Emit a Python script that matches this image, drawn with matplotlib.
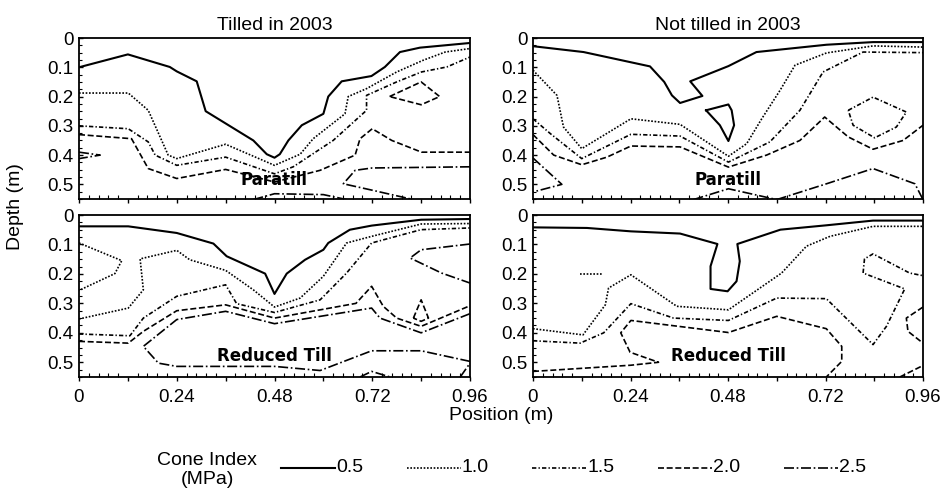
import matplotlib
matplotlib.use("Agg")
import matplotlib.pyplot as plt
from matplotlib.lines import Line2D
from matplotlib.ticker import FixedLocator, MultipleLocator

plt.rcParams['font.family'] = ['Liberation Sans', 'DejaVu Sans']

# contour lines: (position m, depth m)
# --- Tilled in 2003 / Paratill
tl_050 = [(0, 0.10), (0.12, 0.056), (0.223, 0.099), (0.24, 0.114), (0.289, 0.148), (0.311, 0.25),
          (0.428, 0.35), (0.461, 0.397), (0.48, 0.409), (0.493, 0.397), (0.514, 0.35), (0.547, 0.298),
          (0.60, 0.259), (0.612, 0.20), (0.645, 0.148), (0.718, 0.13), (0.751, 0.099), (0.788, 0.048),
          (0.837, 0.033), (0.96, 0.017)]
tl_100 = [(0, 0.188), (0.121, 0.188), (0.17, 0.247), (0.219, 0.40), (0.24, 0.412), (0.36, 0.363),
          (0.48, 0.435), (0.543, 0.397), (0.575, 0.344), (0.653, 0.259), (0.661, 0.20), (0.706, 0.173),
          (0.78, 0.116), (0.845, 0.076), (0.899, 0.048), (0.96, 0.036)]
tl_150 = [(0, 0.30), (0.121, 0.31), (0.17, 0.355), (0.187, 0.40), (0.24, 0.435), (0.36, 0.407),
          (0.48, 0.464), (0.526, 0.44), (0.624, 0.35), (0.706, 0.247), (0.706, 0.196), (0.78, 0.15),
          (0.841, 0.116), (0.903, 0.099), (0.96, 0.065)]
tl_200 = [(0, 0.33), (0.129, 0.344), (0.17, 0.446), (0.24, 0.48), (0.36, 0.449), (0.48, 0.492),
          (0.592, 0.452), (0.678, 0.40), (0.69, 0.344), (0.72, 0.31), (0.768, 0.35), (0.841, 0.39),
          (0.96, 0.39)]
tl_200b = [(0.7625, 0.20), (0.84, 0.15), (0.8855, 0.20), (0.84, 0.228), (0.7625, 0.20)]
tl_250a = [(0.96, 0.44), (0.72, 0.444), (0.678, 0.452), (0.649, 0.498), (0.72, 0.52), (0.821, 0.552)]
tl_250b = [(0.428, 0.552), (0.48, 0.532), (0.60, 0.535), (0.657, 0.552)]
tl_250c = [(0, 0.39), (0.052, 0.40), (0, 0.412)]

# --- Not tilled in 2003 / Paratill
tr_050a = [(0, 0.028), (0.1245, 0.048), (0.288, 0.097), (0.323, 0.15), (0.342, 0.196), (0.362, 0.222),
           (0.417, 0.198), (0.387, 0.148), (0.481, 0.096), (0.55, 0.048), (0.7225, 0.023), (0.837, 0.014),
           (0.96, 0.014)]
tr_050b = [(0.426, 0.247), (0.481, 0.227), (0.489, 0.247), (0.495, 0.298), (0.481, 0.352), (0.46, 0.298),
           (0.426, 0.247)]
tr_100 = [(0, 0.11), (0.059, 0.196), (0.075, 0.304), (0.12, 0.378), (0.241, 0.276), (0.362, 0.295),
          (0.481, 0.404), (0.526, 0.361), (0.563, 0.276), (0.608, 0.179), (0.645, 0.093), (0.7225, 0.051),
          (0.837, 0.027), (0.96, 0.031)]
tr_150a = [(0, 0.276), (0.043, 0.327), (0.12, 0.412), (0.241, 0.329), (0.362, 0.335), (0.481, 0.424),
           (0.583, 0.355), (0.657, 0.247), (0.714, 0.116), (0.8125, 0.048), (0.96, 0.05)]
tr_150b = [(0.776, 0.247), (0.837, 0.202), (0.919, 0.253), (0.8945, 0.304), (0.841, 0.341), (0.788, 0.298),
           (0.776, 0.247)]
tr_200 = [(0, 0.33), (0.051, 0.40), (0.12, 0.433), (0.182, 0.407), (0.241, 0.369), (0.362, 0.372),
          (0.481, 0.441), (0.575, 0.40), (0.657, 0.35), (0.718, 0.27), (0.776, 0.338), (0.837, 0.38),
          (0.911, 0.35), (0.96, 0.298)]
tr_250a = [(0.395, 0.552), (0.481, 0.515), (0.60, 0.552)]
tr_250b = [(0.60, 0.552), (0.7225, 0.498), (0.837, 0.446), (0.94, 0.498), (0.96, 0.552)]
tr_250c = [(0, 0.41), (0.071, 0.50), (0, 0.526)]

# --- Tilled in 2003 / Reduced Till
bl_050 = [(0, 0.0385), (0.121, 0.0385), (0.24, 0.061), (0.33, 0.097), (0.3625, 0.14), (0.457, 0.199),
          (0.48, 0.268), (0.51, 0.199), (0.555, 0.152), (0.60, 0.118), (0.612, 0.095), (0.665, 0.05),
          (0.7185, 0.036), (0.84, 0.016), (0.96, 0.0136)]
bl_100a = [(0, 0.095), (0.105, 0.155), (0.088, 0.199), (0, 0.256)]
bl_100b = [(0, 0.353), (0.121, 0.316), (0.158, 0.254), (0.15, 0.149), (0.24, 0.12), (0.272, 0.152),
           (0.36, 0.188), (0.428, 0.254), (0.48, 0.3125), (0.543, 0.282), (0.60, 0.208), (0.657, 0.095),
           (0.7185, 0.0725), (0.84, 0.0306), (0.96, 0.029)]
bl_150 = [(0, 0.404), (0.125, 0.41), (0.158, 0.35), (0.24, 0.276), (0.36, 0.237), (0.387, 0.301),
          (0.48, 0.331), (0.592, 0.288), (0.657, 0.197), (0.7185, 0.095), (0.84, 0.0498), (0.96, 0.044)]
bl_200 = [(0, 0.429), (0.121, 0.435), (0.158, 0.395), (0.24, 0.325), (0.36, 0.305), (0.48, 0.35),
          (0.68, 0.30), (0.7185, 0.242), (0.747, 0.31), (0.78, 0.35), (0.84, 0.378), (0.96, 0.308)]
bl_200b = [(0.821, 0.35), (0.84, 0.288), (0.858, 0.35), (0.84, 0.361), (0.821, 0.35)]
bl_250a = [(0.96, 0.335), (0.84, 0.40), (0.739, 0.35), (0.7185, 0.316), (0.48, 0.369), (0.36, 0.327),
           (0.24, 0.355), (0.158, 0.446), (0.195, 0.503), (0.24, 0.514), (0.48, 0.514), (0.592, 0.528),
           (0.7185, 0.461), (0.84, 0.461), (0.96, 0.497)]
bl_250b = [(0.96, 0.0985), (0.84, 0.118), (0.813, 0.146), (0.89, 0.197), (0.96, 0.231)]
bl_250c = [(0.69, 0.55), (0.7185, 0.531), (0.764, 0.55)]
bl_250d = [(0.936, 0.55), (0.96, 0.503)]

# --- Not tilled in 2003 / Reduced Till
br_050 = [(0, 0.042), (0.133, 0.044), (0.241, 0.0555), (0.362, 0.063), (0.454, 0.0985), (0.437, 0.174),
          (0.437, 0.251), (0.479, 0.259), (0.501, 0.225), (0.509, 0.157), (0.503, 0.0985), (0.609, 0.0498),
          (0.722, 0.035), (0.837, 0.019), (0.96, 0.019)]
br_100a = [(0.116, 0.199), (0.17, 0.199)]
br_100b = [(0, 0.386), (0.123, 0.407), (0.178, 0.305), (0.186, 0.248), (0.241, 0.203), (0.354, 0.31),
           (0.481, 0.322), (0.612, 0.197), (0.673, 0.106), (0.731, 0.0725), (0.837, 0.0385), (0.96, 0.0385)]
br_150 = [(0, 0.427), (0.116, 0.435), (0.174, 0.40), (0.241, 0.301), (0.346, 0.35), (0.481, 0.358),
          (0.60, 0.282), (0.722, 0.284), (0.837, 0.44), (0.87, 0.378), (0.915, 0.251), (0.8125, 0.197),
          (0.816, 0.149), (0.837, 0.132), (0.927, 0.197), (0.96, 0.206)]
br_200a = [(0, 0.531), (0.241, 0.51), (0.309, 0.50), (0.239, 0.466), (0.216, 0.40), (0.241, 0.358),
           (0.481, 0.399), (0.60, 0.344), (0.722, 0.386), (0.76, 0.446), (0.76, 0.497), (0.722, 0.55)]
br_200b = [(0.96, 0.3125), (0.919, 0.35), (0.923, 0.395), (0.96, 0.435)]
br_200c = [(0.903, 0.55), (0.96, 0.511)]

levels = ['0.5', '1.0', '1.5', '2.0', '2.5']
styles = {
    '0.5': ('-', 1.5),
    '1.0': ((0, (1, 1)), 1.2),
    '1.5': ((0, (2.6, 1.3, 0.8, 1.3)), 1.2),
    '2.0': ((0, (3.6, 1.6)), 1.2),
    '2.5': ((0, (6, 1.6, 1, 1.6)), 1.2),
}

panels = [
    ('Tilled in 2003', 'Paratill',
     [(tl_050, '0.5'), (tl_100, '1.0'), (tl_150, '1.5'), (tl_200, '2.0'), (tl_200b, '2.0'),
      (tl_250a, '2.5'), (tl_250b, '2.5'), (tl_250c, '2.5')]),
    ('Not tilled in 2003', 'Paratill',
     [(tr_050a, '0.5'), (tr_050b, '0.5'), (tr_100, '1.0'), (tr_150a, '1.5'), (tr_150b, '1.5'),
      (tr_200, '2.0'), (tr_250a, '2.5'), (tr_250b, '2.5'), (tr_250c, '2.5')]),
    ('', 'Reduced Till',
     [(bl_050, '0.5'), (bl_100a, '1.0'), (bl_100b, '1.0'), (bl_150, '1.5'), (bl_200, '2.0'),
      (bl_200b, '2.0'), (bl_250a, '2.5'), (bl_250b, '2.5'), (bl_250c, '2.5'), (bl_250d, '2.5')]),
    ('', 'Reduced Till',
     [(br_050, '0.5'), (br_100a, '1.0'), (br_100b, '1.0'), (br_150, '1.5'), (br_200a, '2.0'),
      (br_200b, '2.0'), (br_200c, '2.0')]),
]

W, H = 944, 492
boxes = [(79, 38, 470, 199), (533, 38, 923, 199), (79, 215, 470, 377), (533, 215, 923, 377)]

xticks = [0, 0.12, 0.24, 0.36, 0.48, 0.60, 0.72, 0.84, 0.96]
xlabels = ['0', '', '0.24', '', '0.48', '', '0.72', '', '0.96']
yticks = [0, 0.1, 0.2, 0.3, 0.4, 0.5]
ylabels = ['0', '0.1', '0.2', '0.3', '0.4', '0.5']

fig = plt.figure(figsize=(W / 100, H / 100), dpi=100)

for i, ((title, tag, lines), (x0, y0, x1, y1)) in enumerate(zip(panels, boxes)):
    ax = fig.add_axes([x0 / W, 1 - y1 / H, (x1 - x0) / W, (y1 - y0) / H])
    for pts, lev in lines:
        ls, lw = styles[lev]
        ax.plot([p[0] for p in pts], [p[1] for p in pts], color='black', linestyle=ls, lw=lw)
    ax.set_xlim(0, 0.96)
    ax.set_ylim(0.55, 0)
    ax.xaxis.set_major_locator(FixedLocator(xticks))
    ax.xaxis.set_minor_locator(MultipleLocator(0.024))
    if i >= 2:
        ax.set_xticklabels(xlabels)
    else:
        ax.set_xticklabels([''] * len(xticks))
    ax.yaxis.set_major_locator(FixedLocator(yticks))
    ax.yaxis.set_minor_locator(MultipleLocator(0.025))
    ax.set_yticklabels(ylabels)
    ax.tick_params(axis='x', which='major', direction='out', length=3, width=1, labelsize=13.5, pad=6)
    ax.tick_params(axis='x', which='minor', direction='in', length=3, width=0.8)
    ax.tick_params(axis='y', which='major', direction='in', length=3, width=1, labelsize=13.5, pad=4)
    ax.tick_params(axis='y', which='minor', direction='in', length=2.5, width=0.8)
    for s in ax.spines.values():
        s.set_linewidth(1.3)
    if title:
        ax.set_title(title, fontsize=14, pad=6)
    ax.text(0.48, 0.485 if tag == 'Paratill' else 0.48, tag, ha='center', va='center',
            fontsize=12, fontweight='bold', family='DejaVu Sans')

fig.text(15 / W, 1 - 207 / H, 'Depth (m)', rotation=90, ha='center', va='center', fontsize=14)
fig.text(501 / W, 1 - 415 / H, 'Position (m)', ha='center', va='center', fontsize=14)

# legend
fig.text(207 / W, 1 - 470 / H, 'Cone Index\n(MPa)', ha='center', va='center', fontsize=14,
         linespacing=1.1)
ly = 1 - 468 / H
for k, lev in enumerate(levels):
    xs = 281 + 125.7 * k
    ls, lw = styles[lev]
    fig.add_artist(Line2D([xs / W, (xs + 54) / W], [ly, ly], color='black', linestyle=ls, lw=lw))
    fig.text((xs + 55) / W, ly, lev, ha='left', va='center', fontsize=14)

fig.savefig('out.png', dpi=100)
